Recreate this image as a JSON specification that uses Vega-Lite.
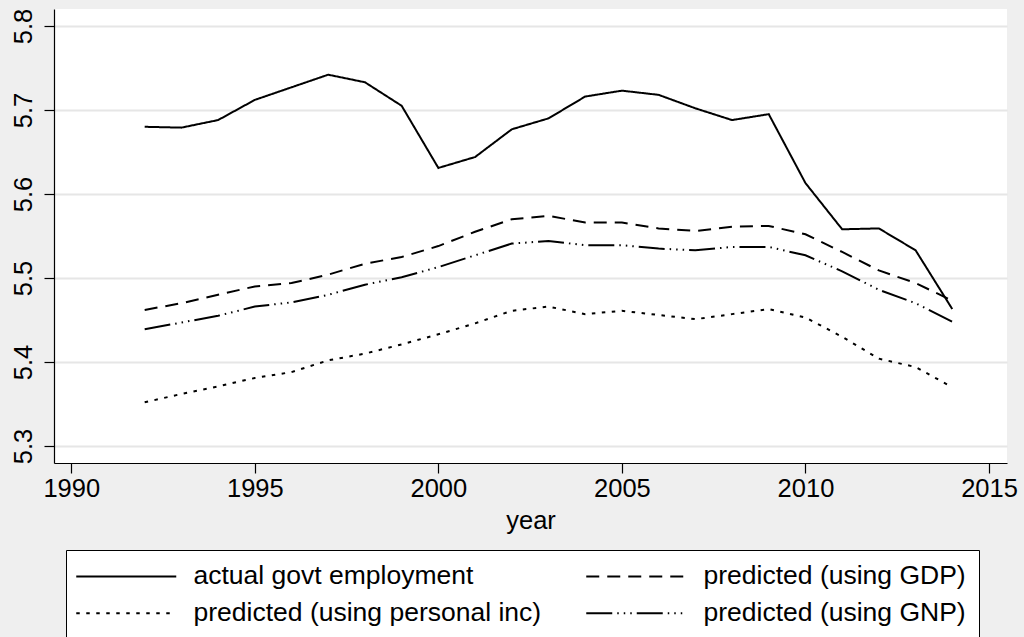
{
  "$schema": "https://vega.github.io/schema/vega-lite/v6.json",
  "width": 953,
  "height": 454,
  "autosize": {"type": "none"},
  "padding": {"left": 54, "top": 9, "right": 17, "bottom": 174},
  "background": "#efefef",
  "title": {"text": "Log of State Government Employment", "anchor": "start", "dx": 46, "fontSize": 33, "font": "Liberation Sans", "fontWeight": "bold", "color": "black", "baseline": "alphabetic", "offset": 12},
  "config": {
    "view": {"fill": "white", "stroke": null},
    "font": "Liberation Sans"
  },
  "data": {"values": [
    {"year": 1992, "series": "actual govt employment", "value": 5.680},
    {"year": 1993, "series": "actual govt employment", "value": 5.679},
    {"year": 1994, "series": "actual govt employment", "value": 5.688},
    {"year": 1995, "series": "actual govt employment", "value": 5.712},
    {"year": 1996, "series": "actual govt employment", "value": 5.727},
    {"year": 1997, "series": "actual govt employment", "value": 5.742},
    {"year": 1998, "series": "actual govt employment", "value": 5.733},
    {"year": 1999, "series": "actual govt employment", "value": 5.705},
    {"year": 2000, "series": "actual govt employment", "value": 5.631},
    {"year": 2001, "series": "actual govt employment", "value": 5.644},
    {"year": 2002, "series": "actual govt employment", "value": 5.677},
    {"year": 2003, "series": "actual govt employment", "value": 5.690},
    {"year": 2004, "series": "actual govt employment", "value": 5.716},
    {"year": 2005, "series": "actual govt employment", "value": 5.723},
    {"year": 2006, "series": "actual govt employment", "value": 5.718},
    {"year": 2007, "series": "actual govt employment", "value": 5.702},
    {"year": 2008, "series": "actual govt employment", "value": 5.688},
    {"year": 2009, "series": "actual govt employment", "value": 5.695},
    {"year": 2010, "series": "actual govt employment", "value": 5.613},
    {"year": 2011, "series": "actual govt employment", "value": 5.558},
    {"year": 2012, "series": "actual govt employment", "value": 5.559},
    {"year": 2013, "series": "actual govt employment", "value": 5.533},
    {"year": 2014, "series": "actual govt employment", "value": 5.463},
    {"year": 1992, "series": "predicted (using GDP)", "value": 5.462},
    {"year": 1993, "series": "predicted (using GDP)", "value": 5.470},
    {"year": 1994, "series": "predicted (using GDP)", "value": 5.480},
    {"year": 1995, "series": "predicted (using GDP)", "value": 5.490},
    {"year": 1996, "series": "predicted (using GDP)", "value": 5.494},
    {"year": 1997, "series": "predicted (using GDP)", "value": 5.504},
    {"year": 1998, "series": "predicted (using GDP)", "value": 5.517},
    {"year": 1999, "series": "predicted (using GDP)", "value": 5.525},
    {"year": 2000, "series": "predicted (using GDP)", "value": 5.538},
    {"year": 2001, "series": "predicted (using GDP)", "value": 5.555},
    {"year": 2002, "series": "predicted (using GDP)", "value": 5.570},
    {"year": 2003, "series": "predicted (using GDP)", "value": 5.574},
    {"year": 2004, "series": "predicted (using GDP)", "value": 5.566},
    {"year": 2005, "series": "predicted (using GDP)", "value": 5.566},
    {"year": 2006, "series": "predicted (using GDP)", "value": 5.559},
    {"year": 2007, "series": "predicted (using GDP)", "value": 5.556},
    {"year": 2008, "series": "predicted (using GDP)", "value": 5.561},
    {"year": 2009, "series": "predicted (using GDP)", "value": 5.562},
    {"year": 2010, "series": "predicted (using GDP)", "value": 5.552},
    {"year": 2011, "series": "predicted (using GDP)", "value": 5.531},
    {"year": 2012, "series": "predicted (using GDP)", "value": 5.509},
    {"year": 2013, "series": "predicted (using GDP)", "value": 5.494},
    {"year": 2014, "series": "predicted (using GDP)", "value": 5.473},
    {"year": 1992, "series": "predicted (using personal inc)", "value": 5.352},
    {"year": 1993, "series": "predicted (using personal inc)", "value": 5.362},
    {"year": 1994, "series": "predicted (using personal inc)", "value": 5.371},
    {"year": 1995, "series": "predicted (using personal inc)", "value": 5.381},
    {"year": 1996, "series": "predicted (using personal inc)", "value": 5.388},
    {"year": 1997, "series": "predicted (using personal inc)", "value": 5.402},
    {"year": 1998, "series": "predicted (using personal inc)", "value": 5.410},
    {"year": 1999, "series": "predicted (using personal inc)", "value": 5.421},
    {"year": 2000, "series": "predicted (using personal inc)", "value": 5.433},
    {"year": 2001, "series": "predicted (using personal inc)", "value": 5.446},
    {"year": 2002, "series": "predicted (using personal inc)", "value": 5.461},
    {"year": 2003, "series": "predicted (using personal inc)", "value": 5.466},
    {"year": 2004, "series": "predicted (using personal inc)", "value": 5.457},
    {"year": 2005, "series": "predicted (using personal inc)", "value": 5.461},
    {"year": 2006, "series": "predicted (using personal inc)", "value": 5.456},
    {"year": 2007, "series": "predicted (using personal inc)", "value": 5.451},
    {"year": 2008, "series": "predicted (using personal inc)", "value": 5.457},
    {"year": 2009, "series": "predicted (using personal inc)", "value": 5.463},
    {"year": 2010, "series": "predicted (using personal inc)", "value": 5.453},
    {"year": 2011, "series": "predicted (using personal inc)", "value": 5.430},
    {"year": 2012, "series": "predicted (using personal inc)", "value": 5.404},
    {"year": 2013, "series": "predicted (using personal inc)", "value": 5.394},
    {"year": 2014, "series": "predicted (using personal inc)", "value": 5.370},
    {"year": 1992, "series": "predicted (using GNP)", "value": 5.439},
    {"year": 1993, "series": "predicted (using GNP)", "value": 5.447},
    {"year": 1994, "series": "predicted (using GNP)", "value": 5.455},
    {"year": 1995, "series": "predicted (using GNP)", "value": 5.466},
    {"year": 1996, "series": "predicted (using GNP)", "value": 5.471},
    {"year": 1997, "series": "predicted (using GNP)", "value": 5.480},
    {"year": 1998, "series": "predicted (using GNP)", "value": 5.492},
    {"year": 1999, "series": "predicted (using GNP)", "value": 5.501},
    {"year": 2000, "series": "predicted (using GNP)", "value": 5.513},
    {"year": 2001, "series": "predicted (using GNP)", "value": 5.527},
    {"year": 2002, "series": "predicted (using GNP)", "value": 5.541},
    {"year": 2003, "series": "predicted (using GNP)", "value": 5.544},
    {"year": 2004, "series": "predicted (using GNP)", "value": 5.539},
    {"year": 2005, "series": "predicted (using GNP)", "value": 5.539},
    {"year": 2006, "series": "predicted (using GNP)", "value": 5.535},
    {"year": 2007, "series": "predicted (using GNP)", "value": 5.533},
    {"year": 2008, "series": "predicted (using GNP)", "value": 5.537},
    {"year": 2009, "series": "predicted (using GNP)", "value": 5.537},
    {"year": 2010, "series": "predicted (using GNP)", "value": 5.527},
    {"year": 2011, "series": "predicted (using GNP)", "value": 5.508},
    {"year": 2012, "series": "predicted (using GNP)", "value": 5.486},
    {"year": 2013, "series": "predicted (using GNP)", "value": 5.470},
    {"year": 2014, "series": "predicted (using GNP)", "value": 5.448}
  ]},
  "mark": {"type": "line", "stroke": "black", "strokeWidth": 2},
  "encoding": {
    "x": {
      "field": "year", "type": "quantitative",
      "scale": {"domain": [1989.53, 2015.49], "nice": false, "zero": false},
      "axis": {
        "values": [1990, 1995, 2000, 2005, 2010, 2015], "format": "d",
        "grid": false, "title": "year",
        "domainColor": "black", "domainWidth": 1.2,
        "tickColor": "black", "tickWidth": 1.2, "tickSize": 10,
        "labelFontSize": 25.5, "labelColor": "black", "labelPadding": 3, "labelFont": "Liberation Sans",
        "titleFontSize": 25.5, "titleFontWeight": "normal", "titleColor": "black", "titlePadding": 7, "titleFont": "Liberation Sans"
      }
    },
    "y": {
      "field": "value", "type": "quantitative",
      "scale": {"domain": [5.2798, 5.8202], "nice": false, "zero": false},
      "axis": {
        "values": [5.3, 5.4, 5.5, 5.6, 5.7, 5.8], "format": ".1f",
        "title": null,
        "grid": true, "gridColor": "#e6e6e6", "gridWidth": 2,
        "domainColor": "black", "domainWidth": 1.2,
        "tickColor": "black", "tickWidth": 1.2, "tickSize": 10,
        "labelAngle": -90, "labelFontSize": 25.5, "labelColor": "black", "labelPadding": 8, "labelFont": "Liberation Sans"
      }
    },
    "strokeDash": {
      "field": "series", "type": "nominal",
      "scale": {
        "domain": ["actual govt employment", "predicted (using GDP)", "predicted (using personal inc)", "predicted (using GNP)"],
        "range": [[1, 0], [13, 8], [3.5, 6.5], [26, 5, 1.5, 5, 1.5, 5, 1.5, 5]]
      },
      "legend": {
        "title": null,
        "orient": "none", "legendX": 12, "legendY": 541,
        "direction": "horizontal",
        "columns": 2, "columnPadding": 40, "rowPadding": 10,
        "padding": 13,
        "fillColor": "white", "strokeColor": "black",
        "symbolType": "M-1.6,0H8.4", "symbolSize": 400, "symbolStrokeColor": "black", "symbolStrokeWidth": 2,
        "labelFontSize": 26.5, "labelColor": "black", "labelFont": "Liberation Sans", "labelLimit": 500, "labelOffset": 88
      }
    }
  }
}
